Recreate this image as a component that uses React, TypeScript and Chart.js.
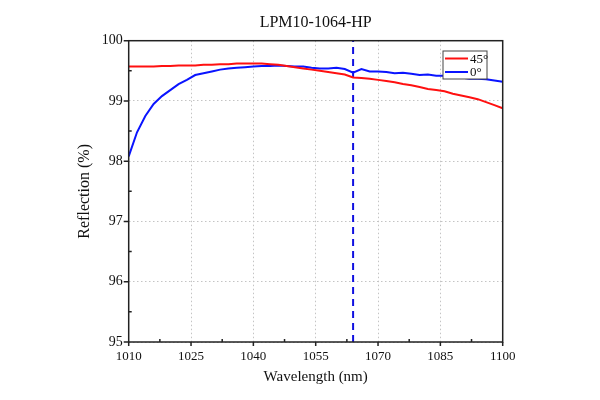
import { useEffect, useRef } from 'react'
import { Chart, registerables, type ChartConfiguration, type Plugin } from 'chart.js'

Chart.register(...registerables)

// wavelength samples (nm), every 2 nm
const wavelengths = [
  1010, 1012, 1014, 1016, 1018, 1020, 1022, 1024, 1026, 1028,
  1030, 1032, 1034, 1036, 1038, 1040, 1042, 1044, 1046, 1048,
  1050, 1052, 1054, 1056, 1058, 1060, 1062, 1064, 1066, 1068,
  1070, 1072, 1074, 1076, 1078, 1080, 1082, 1084, 1086, 1088,
  1090, 1092, 1094, 1096, 1098, 1100,
]

const reflection45 = [
  99.57, 99.57, 99.57, 99.57, 99.58, 99.58, 99.59, 99.59, 99.59, 99.6,
  99.6, 99.61, 99.61, 99.62, 99.62, 99.62, 99.62, 99.61, 99.6, 99.58,
  99.56, 99.54, 99.52, 99.5, 99.48, 99.46, 99.44, 99.39, 99.38, 99.37,
  99.35, 99.33, 99.31, 99.28, 99.26, 99.23, 99.2, 99.18, 99.16, 99.12,
  99.09, 99.06, 99.03, 98.98, 98.93, 98.88,
]

const reflection0 = [
  98.08, 98.48, 98.75, 98.95, 99.08, 99.18, 99.28, 99.35, 99.43, 99.46,
  99.49, 99.52, 99.54, 99.55, 99.56, 99.57, 99.58, 99.58, 99.59, 99.58,
  99.57, 99.57, 99.55, 99.54, 99.54, 99.55, 99.53, 99.47, 99.53, 99.49,
  99.49, 99.48, 99.46, 99.47, 99.45, 99.43, 99.44, 99.42, 99.42, 99.4,
  99.39, 99.37, 99.37, 99.36, 99.34, 99.32,
]

const markerWavelength = 1064
const xTicks = [1010, 1025, 1040, 1055, 1070, 1085, 1100]
const yTicks = [95, 96, 97, 98, 99, 100]

const SERIF = '"Liberation Serif", "Times New Roman", serif'

const frameAndTicks: Plugin<'line'> = {
  id: 'frameAndTicks',
  afterDraw(chart) {
    const { ctx, chartArea: a, scales } = chart
    const x = scales.x
    const y = scales.y
    ctx.save()
    ctx.strokeStyle = '#222'
    ctx.lineWidth = 1.5
    ctx.beginPath()
    // major ticks point outward, minor ticks inward
    xTicks.forEach((v, i) => {
      const px = x.getPixelForValue(v)
      ctx.moveTo(px, a.bottom)
      ctx.lineTo(px, a.bottom + 4)
      if (i < xTicks.length - 1) {
        const m = x.getPixelForValue((v + xTicks[i + 1]) / 2)
        ctx.moveTo(m, a.bottom)
        ctx.lineTo(m, a.bottom - 3)
      }
    })
    yTicks.forEach((v, i) => {
      const py = y.getPixelForValue(v)
      ctx.moveTo(a.left, py)
      ctx.lineTo(a.left - 5, py)
      if (i < yTicks.length - 1) {
        const m = y.getPixelForValue((v + yTicks[i + 1]) / 2)
        ctx.moveTo(a.left, m)
        ctx.lineTo(a.left + 3, m)
      }
    })
    ctx.stroke()
    ctx.strokeRect(a.left, a.top, a.right - a.left, a.bottom - a.top)

    // legend box in the upper right corner
    const lx = 443
    const ly = 51
    ctx.fillStyle = '#fff'
    ctx.fillRect(lx, ly, 44, 28)
    ctx.lineWidth = 1
    ctx.strokeStyle = '#444'
    ctx.strokeRect(lx, ly, 44, 28)
    ctx.font = `13px ${SERIF}`
    ctx.textBaseline = 'middle'
    ctx.textAlign = 'left'
    chart.data.datasets.slice(0, 2).forEach((ds, i) => {
      const ry = ly + 7.5 + i * 13.5
      ctx.strokeStyle = ds.borderColor as string
      ctx.lineWidth = 2
      ctx.beginPath()
      ctx.moveTo(lx + 2, ry)
      ctx.lineTo(lx + 25, ry)
      ctx.stroke()
      ctx.fillStyle = '#111'
      ctx.fillText(ds.label ?? '', lx + 27, ry + 1)
    })
    ctx.restore()
  },
}

export default function App() {
  const chartRef = useRef<HTMLCanvasElement>(null)
  const chartInstance = useRef<Chart<'line'> | null>(null)

  useEffect(() => {
    if (!chartRef.current) return
    chartInstance.current?.destroy()

    const config: ChartConfiguration<'line'> = {
      type: 'line',
      data: {
        datasets: [
          {
            label: '45°',
            data: wavelengths.map((w, i) => ({ x: w, y: reflection45[i] })),
            borderColor: '#ff1010',
            borderWidth: 2,
            pointRadius: 0,
            tension: 0,
          },
          {
            label: '0°',
            data: wavelengths.map((w, i) => ({ x: w, y: reflection0[i] })),
            borderColor: '#0a14ff',
            borderWidth: 2,
            pointRadius: 0,
            tension: 0,
          },
          {
            label: 'marker',
            data: [
              { x: markerWavelength, y: yTicks[0] },
              { x: markerWavelength, y: yTicks[yTicks.length - 1] },
            ],
            borderColor: '#1010e0',
            borderWidth: 2,
            borderDash: [7, 5],
            pointRadius: 0,
          },
        ],
      },
      options: {
        responsive: false,
        animation: false,
        layout: { padding: { top: 0, right: 97.3, bottom: 0, left: 0 } },
        scales: {
          x: {
            type: 'linear',
            min: xTicks[0],
            max: xTicks[xTicks.length - 1],
            afterBuildTicks: (s) => { s.ticks = xTicks.map(v => ({ value: v })) },
            afterFit: (s) => { s.height = 58 },
            grid: { color: '#c4c4c4', lineWidth: 1, drawTicks: false },
            border: { display: false, dash: [1.5, 2.5] },
            ticks: {
              color: '#111',
              padding: 7,
              font: { family: SERIF, size: 13 },
              maxRotation: 0,
              callback: (v) => String(v),
            },
            title: {
              display: true,
              text: 'Wavelength (nm)',
              color: '#111',
              font: { family: SERIF, size: 15 },
              padding: { top: 0, bottom: 14 },
            },
          },
          y: {
            type: 'linear',
            min: yTicks[0],
            max: yTicks[yTicks.length - 1],
            afterBuildTicks: (s) => { s.ticks = yTicks.map(v => ({ value: v })) },
            afterFit: (s) => { s.width = 128.7 },
            grid: { color: '#c4c4c4', lineWidth: 1, drawTicks: false },
            border: { display: false, dash: [1.5, 2.5] },
            ticks: {
              color: '#111',
              padding: 6,
              font: { family: SERIF, size: 14 },
              callback: (v) => String(v),
            },
            title: {
              display: true,
              text: 'Reflection (%)',
              color: '#111',
              font: { family: SERIF, size: 16 },
              padding: { top: 75, bottom: 0 },
            },
          },
        },
        plugins: {
          legend: { display: false },
          tooltip: { enabled: false },
          title: {
            display: true,
            text: 'LPM10-1064-HP',
            color: '#111',
            fullSize: false,
            font: { family: SERIF, size: 16, weight: 'normal' },
            padding: { top: 13, bottom: 8.5 },
          },
        },
      },
      plugins: [frameAndTicks],
    }

    chartInstance.current = new Chart(chartRef.current, config)

    return () => {
      chartInstance.current?.destroy()
    }
  }, [])

  return (
    <div style={{ position: 'fixed', left: 0, top: 0, width: 600, height: 400, background: '#fff' }}>
      <canvas ref={chartRef} width={600} height={400} style={{ display: 'block' }} />
    </div>
  )
}
